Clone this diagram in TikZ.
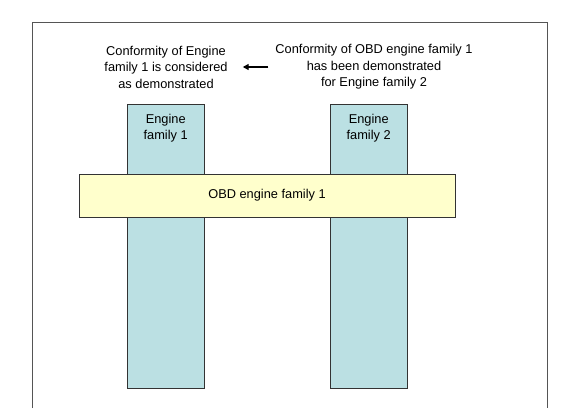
\documentclass[tikz,border=0pt]{standalone}
\usepackage{fontspec}
\setmainfont{Liberation Sans}
\usetikzlibrary{arrows.meta,positioning}
\definecolor{famblue}{HTML}{BBE0E3}
\definecolor{obdyellow}{HTML}{FFFFCC}
\definecolor{framegray}{HTML}{555555}
\begin{document}
\begin{tikzpicture}[x=1pt, y=-1pt, every node/.style={font=\fontsize{12.8}{16.5}\selectfont, inner sep=3pt},
  famblock/.style={draw=black!80, fill=famblue, minimum width=77pt, minimum height=284pt, anchor=north west},
  obdbar/.style={draw=black!80, fill=obdyellow, minimum width=376pt, minimum height=43pt, anchor=north west}]
\useasboundingbox (0,0) rectangle (575,408);
\draw[framegray] (32,408) -- (32,22) -- (547,22) -- (547,408);
% engine families
\node[famblock] (fam1) at (127,104) {};
\node[famblock] (fam2) at (330,104) {};
\node[align=center, below=7pt of fam1.north] (fam1txt) {Engine\\family 1};
\node[align=center, below=7pt of fam2.north] (fam2txt) {Engine\\family 2};
% OBD family on top
\node[obdbar] (obd) at (79,174) {};
\node at (267,195) (obdtxt) {OBD engine family 1};
% notes
\node[align=center] (ltxt) at (166,67) {Conformity of Engine\\family 1 is considered\\as demonstrated};
\node[align=center] (rtxt) at (374,67) {Conformity of OBD engine family 1\\has been demonstrated\\for Engine family 2};
\draw[-{Triangle[length=6pt,width=6pt]}, line width=1.4pt, shorten <=4pt, shorten >=12pt] (rtxt.west) -- (ltxt.east);
\end{tikzpicture}
\end{document}
